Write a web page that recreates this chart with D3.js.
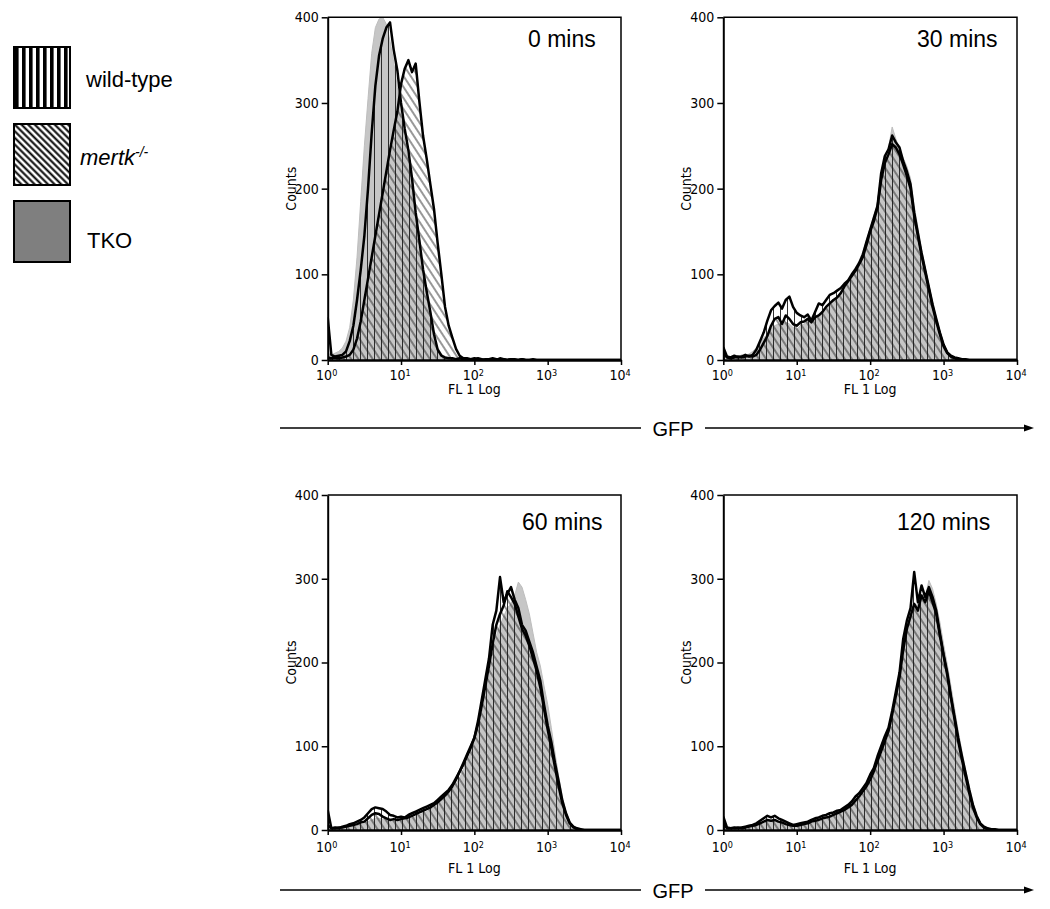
<!DOCTYPE html>
<html><head><meta charset="utf-8">
<script src="https://cdn.jsdelivr.net/npm/d3@7"></script>
<style>body{margin:0;background:#fff} svg{display:block}</style>
</head><body>
<svg id="c" width="1050" height="909"></svg>
<script>
// ---------------- DATA ----------------
const panelTitles = ["0 mins", "30 mins", "60 mins", "120 mins"];
const legendLabels = ["wild-type", "mertk", "TKO"];
const yTicks = [0, 100, 200, 300, 400];
const xTickExps = [0, 1, 2, 3, 4];
const axisXLabel = "FL 1 Log";
const axisYLabel = "Counts";
const bigAxisLabel = "GFP";
const logStep = 0.05; // channel spacing in decades (log10 FL1), values start at 10^0

// 0 mins
const wildType0 = [50,6,4,5,6,10,22,40,70,105,145,200,265,320,355,375,388,394,362,338,300,270,245,212,172,140,106,80,56,30,12,5,3,2,2,1,2,1,1,0,1,2,1,0,1,1,0,2,1,0,1,0,0,1];
const mertk0    = [3,2,3,2,3,4,6,12,25,45,70,95,120,145,170,195,220,245,268,290,322,340,350,336,346,302,262,235,205,176,136,100,62,40,26,13,5,2,2,1,2,1,0,1,1,2,1,0,1,0,1,1,0,1,0,0,1];
const tko0      = [8,6,8,10,14,22,38,70,120,185,250,305,358,388,398,400,392,372,348,318,282,256,232,204,166,134,100,74,52,26,10,4,2,1];
// 30 mins
const wildType30 = [15,4,3,5,3,4,6,4,6,12, 22,32,46,58,63,67,60,70,74,62, 55,52,50,53,46,56,66,64,70,76, 78,81,84,89,93,100,106,113,123,138, 152,166,180,218,238,246,262,254,248,232, 220,205,172,148,125,105,85,65,48,32, 18,9,5,3,2,1,1];
const mertk30    = [8,3,2,3,4,3,4,5,4,6, 12,20,28,40,48,50,42,52,48,42, 40,44,45,48,44,50,52,56,62,66, 70,73,78,86,92,98,104,112,120,134, 150,162,178,210,230,240,252,248,240,228, 215,200,168,145,122,102,82,62,45,30, 16,8,4,2,1];
const tko30      = [6,3,4,5,4,6,5,7,10,14, 20,26,30,36,40,42,40,44,42,38, 36,40,42,46,45,48,52,55,60,64, 70,74,80,86,92,100,108,116,126,140, 154,168,182,212,232,248,272,258,246,236, 226,212,180,155,130,108,88,68,50,34, 20,10,5,3,2,1];
// 60 mins
const wildType60 = [24,2,3,2,4,5,7,8,10,12, 15,20,25,27,26,25,22,18,17,15, 16,15,18,20,22,24,26,28,30,32, 36,40,44,48,54,62,70,80,90,100, 110,130,155,180,205,245,262,302,272,282, 290,275,265,245,238,225,212,195,178,150, 125,105,80,58,35,20,9,4,2,1];
const mertk60    = [6,2,2,3,3,4,5,6,7,9, 10,14,18,20,19,16,14,12,13,12, 13,14,15,17,19,21,23,25,27,30, 33,37,41,46,52,60,70,78,88,98, 110,126,148,172,196,222,245,258,268,285, 278,270,255,240,232,220,205,190,170,145, 120,98,75,52,32,18,8,3,1];
const tko60      = [4,2,2,3,3,3,4,4,5,6, 8,10,12,14,14,13,12,11,10,10, 11,12,13,14,16,18,20,22,25,27, 30,34,38,43,48,55,62,72,82,92, 104,118,138,160,185,210,232,245,255,265, 270,280,296,290,275,258,235,212,196,172, 150,122,92,64,40,22,10,4,2,1];
// 120 mins
const wildType120 = [16,3,2,3,2,3,4,5,6,8, 11,14,17,15,17,14,12,10,8,6, 7,8,9,10,12,14,15,17,18,20, 21,23,24,27,30,34,40,44,50,56, 66,74,88,100,112,122,142,165,188,228, 250,265,308,272,292,278,290,278,262,235, 210,188,160,135,110,88,68,48,30,17, 8,4,2,1,1];
const mertk120    = [8,2,2,2,3,2,3,4,5,6, 8,10,12,11,12,10,9,7,6,5, 5,6,7,8,10,11,12,14,15,16, 18,20,22,24,27,30,35,40,46,52, 60,70,82,94,106,118,138,160,182,215, 240,255,270,262,280,272,285,272,258,232, 208,185,158,132,106,84,64,44,27,15, 7,3,1];
const tko120      = [5,2,2,2,2,3,3,4,4,5, 7,8,10,10,10,9,8,6,5,5, 5,5,6,7,8,9,10,12,13,14, 16,18,20,22,25,28,32,37,42,48, 56,65,76,88,100,112,130,152,175,205, 232,250,262,272,282,278,298,288,270,248, 222,198,172,145,118,94,72,52,33,18, 9,4,2,1];

const panelData = [
  {wt: wildType0,   mk: mertk0,   tko: tko0},
  {wt: wildType30,  mk: mertk30,  tko: tko30},
  {wt: wildType60,  mk: mertk60,  tko: tko60},
  {wt: wildType120, mk: mertk120, tko: tko120}
];

// ---------------- LAYOUT ----------------
const layout = [
  {x0: 327.7, x1: 621,  y0: 17.3, y1: 360, tickDy: 20, flDy: 34, tx: 528, ty: 47},
  {x0: 723.3, x1: 1017, y0: 17.3, y1: 360, tickDy: 20, flDy: 34, tx: 917, ty: 47},
  {x0: 327.7, x1: 621,  y0: 495,  y1: 830, tickDy: 22, flDy: 43, tx: 522, ty: 530},
  {x0: 723.3, x1: 1017, y0: 495,  y1: 830, tickDy: 22, flDy: 43, tx: 897, ty: 530}
];
const MAIN_FONT = "'Liberation Sans', Arial, Helvetica, sans-serif";
const NARROW_FONT = "'Liberation Sans Narrow', 'Arial Narrow', 'DejaVu Sans Condensed', 'Liberation Sans', sans-serif";
const GRAY = "#c6c6c6";

const svg = d3.select("#c");
const defs = svg.append("defs");

// chart hatch patterns
const pv = defs.append("pattern").attr("id", "vHatch").attr("patternUnits", "userSpaceOnUse")
  .attr("width", 7).attr("height", 10);
pv.append("line").attr("x1", 3.5).attr("x2", 3.5).attr("y1", 0).attr("y2", 10)
  .attr("stroke", "#1a1a1a").attr("stroke-width", 0.9);
const pd = defs.append("pattern").attr("id", "dHatch").attr("patternUnits", "userSpaceOnUse")
  .attr("width", 6).attr("height", 10).attr("patternTransform", "rotate(-33)");
pd.append("line").attr("x1", 3).attr("x2", 3).attr("y1", 0).attr("y2", 10)
  .attr("stroke", "#1a1a1a").attr("stroke-width", 0.9);

// legend patterns
const lv = defs.append("pattern").attr("id", "legV").attr("patternUnits", "userSpaceOnUse")
  .attr("width", 7).attr("height", 10).attr("patternTransform", "translate(15,0)");
lv.append("rect").attr("x", 0).attr("y", 0).attr("width", 3.6).attr("height", 10).attr("fill", "#000");
const ld = defs.append("pattern").attr("id", "legD").attr("patternUnits", "userSpaceOnUse")
  .attr("width", 4.7).attr("height", 10).attr("patternTransform", "rotate(-45)");
ld.append("line").attr("x1", 2.3).attr("x2", 2.3).attr("y1", 0).attr("y2", 10)
  .attr("stroke", "#000").attr("stroke-width", 2);

// ---------------- LEGEND ----------------
const legendFills = ["url(#legV)", "url(#legD)", "#7f7f7f"];
const legendY = [47, 124, 201];
legendLabels.forEach((lab, i) => {
  svg.append("rect").attr("x", 14).attr("y", legendY[i]).attr("width", 56).attr("height", 61)
    .attr("fill", "#fff");
  svg.append("rect").attr("x", 14).attr("y", legendY[i]).attr("width", 56).attr("height", 61)
    .attr("fill", legendFills[i]).attr("stroke", "#000").attr("stroke-width", 2);
});
svg.append("text").attr("x", 86).attr("y", 87).attr("font-family", MAIN_FONT).attr("font-size", 22)
  .text(legendLabels[0]);
const mt = svg.append("text").attr("x", 80).attr("y", 165).attr("font-family", MAIN_FONT).attr("font-size", 22)
  .attr("font-style", "italic");
mt.append("tspan").text(legendLabels[1]);
mt.append("tspan").attr("dy", -8).attr("font-size", 14).text("-/-");
svg.append("text").attr("x", 87).attr("y", 248).attr("font-family", MAIN_FONT).attr("font-size", 22)
  .text(legendLabels[2]);

// ---------------- PANELS ----------------
const nGrid = Math.round(4 / logStep) + 1;
layout.forEach((L, p) => {
  const x = d3.scaleLog().domain([1, 1e4]).range([L.x0, L.x1]);
  const y = d3.scaleLinear().domain([0, 400]).range([L.y1, L.y0]);
  const g = svg.append("g");
  const clipId = "clip" + p;
  defs.append("clipPath").attr("id", clipId).append("rect")
    .attr("x", L.x0).attr("y", L.y0).attr("width", L.x1 - L.x0).attr("height", L.y1 - L.y0);

  const toPts = arr => d3.range(nGrid).map(i => ({v: Math.pow(10, i * logStep), c: arr[i] ?? 0}));
  const area = d3.area().x(d => x(d.v)).y0(y(0)).y1(d => y(d.c));
  const line = d3.line().x(d => x(d.v)).y(d => y(d.c));
  const D = panelData[p];
  const plot = g.append("g").attr("clip-path", `url(#${clipId})`);

  plot.append("path").attr("d", area(toPts(D.tko))).attr("fill", GRAY)
    .attr("stroke", "#bdbdbd").attr("stroke-width", 1);
  plot.append("path").attr("d", area(toPts(D.wt))).attr("fill", "url(#vHatch)");
  plot.append("path").attr("d", area(toPts(D.mk))).attr("fill", "url(#dHatch)");
  plot.append("path").attr("d", line(toPts(D.wt))).attr("fill", "none")
    .attr("stroke", "#000").attr("stroke-width", 2.5).attr("stroke-linejoin", "round");
  plot.append("path").attr("d", line(toPts(D.mk))).attr("fill", "none")
    .attr("stroke", "#000").attr("stroke-width", 2.5).attr("stroke-linejoin", "round");

  // frame (top & right)
  g.append("path").attr("d", `M${L.x0},${L.y0}H${L.x1}V${L.y1}`).attr("fill", "none")
    .attr("stroke", "#000").attr("stroke-width", 1.5);

  // y axis
  const ya = g.append("g").attr("transform", `translate(${L.x0},0)`)
    .call(d3.axisLeft(y).tickValues(yTicks).tickSize(6).tickSizeOuter(0).tickPadding(3));
  ya.select(".domain").attr("stroke-width", 2);
  ya.selectAll(".tick line").attr("stroke-width", 1.5);
  ya.selectAll("text").attr("font-family", NARROW_FONT).attr("font-size", 14).attr("fill", "#000");

  // x axis
  const xa = g.append("g").attr("transform", `translate(0,${L.y1})`)
    .call(d3.axisBottom(x).tickValues(xTickExps.map(e => Math.pow(10, e))).tickSize(5)
      .tickSizeOuter(0).tickFormat(""));
  xa.select(".domain").attr("stroke-width", 2.4);
  xa.selectAll(".tick line").attr("stroke-width", 1.5);
  xTickExps.forEach(e => {
    const t = g.append("text").attr("x", x(Math.pow(10, e)) - 1).attr("y", L.y1 + L.tickDy)
      .attr("text-anchor", "middle").attr("font-family", NARROW_FONT).attr("font-size", 14);
    t.append("tspan").text("10");
    t.append("tspan").attr("dy", -4).attr("font-size", 9).text(String(e));
  });

  g.append("text").attr("x", (L.x0 + L.x1) / 2).attr("y", L.y1 + L.flDy).attr("text-anchor", "middle")
    .attr("font-family", NARROW_FONT).attr("font-size", 14).text(axisXLabel);
  const cy = (L.y0 + L.y1) / 2;
  g.append("text").attr("transform", `translate(${L.x0 - 32},${cy}) rotate(-90)`).attr("text-anchor", "middle")
    .attr("font-family", NARROW_FONT).attr("font-size", 14).text(axisYLabel);

  g.append("text").attr("x", L.tx).attr("y", L.ty).attr("font-family", MAIN_FONT).attr("font-size", 23)
    .text(panelTitles[p]);
});

// ---------------- GFP arrows ----------------
[428, 890].forEach(yy => {
  svg.append("line").attr("x1", 280).attr("x2", 1026).attr("y1", yy).attr("y2", yy)
    .attr("stroke", "#000").attr("stroke-width", 1.4);
  svg.append("path").attr("d", `M1034,${yy}L1024,${yy - 3.5}L1024,${yy + 3.5}Z`).attr("fill", "#000");
  svg.append("rect").attr("x", 641).attr("y", yy - 12).attr("width", 64).attr("height", 24).attr("fill", "#fff");
  svg.append("text").attr("x", 673).attr("y", yy + 8).attr("text-anchor", "middle")
    .attr("font-family", MAIN_FONT).attr("font-size", 20).text(bigAxisLabel);
});
</script>
</body></html>
